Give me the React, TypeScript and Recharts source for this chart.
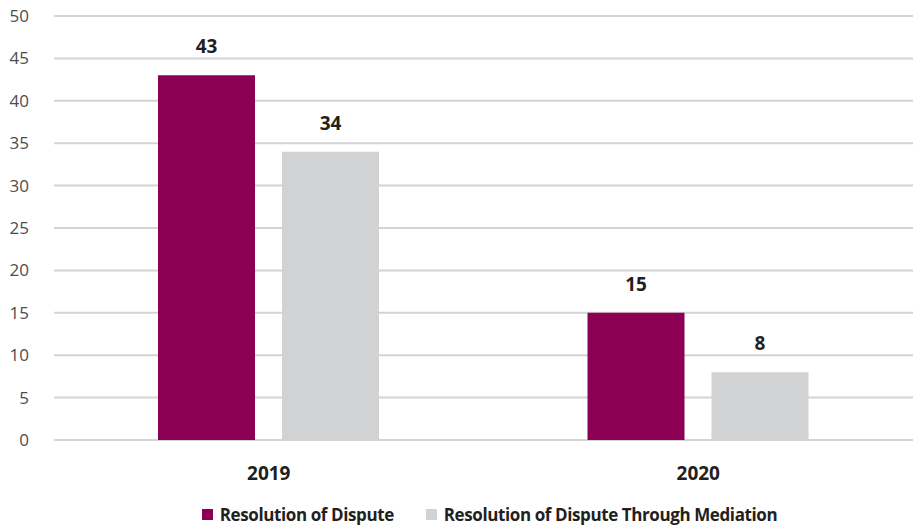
import React from "react";
import { BarChart, Bar, XAxis, YAxis, CartesianGrid, Legend, LabelList } from "recharts";

const categories = ["2019", "2020"];
const resolutionOfDispute = [43, 15];
const throughMediation = [34, 8];
const yTicks = [0, 5, 10, 15, 20, 25, 30, 35, 40, 45, 50];

const seriesNames = ["Resolution of Dispute", "Resolution of Dispute Through Mediation"];
const colors = ["#8B0052", "#D1D2D4"];

const data = categories.map((c, i) => ({
  year: c,
  a: resolutionOfDispute[i],
  b: throughMediation[i],
}));

const FONT = "'Open Sans', sans-serif";

const LegendContent = () => (
  <div
    style={{
      display: "flex",
      justifyContent: "center",
      alignItems: "center",
      height: 30,
      fontFamily: FONT,
      fontWeight: 700,
      fontSize: 17,
      letterSpacing: -0.4,
      color: "#231F20",
      paddingLeft: 66,
    }}
  >
    {seriesNames.map((n, i) => (
      <div key={n} style={{ display: "flex", alignItems: "center", marginRight: i === 0 ? 32 : 0 }}>
        <span style={{ display: "inline-block", width: 11, height: 11, background: colors[i], marginRight: 7 }} />
        <span>{n}</span>
      </div>
    ))}
  </div>
);

export default function App() {
  return (
    <div style={{ position: "absolute", left: 0, top: 0, width: 913, height: 529, background: "#fff" }}>
      <BarChart
        width={913}
        height={529}
        data={data}
        margin={{ top: 16, right: 0, bottom: 0, left: 0 }}
        barGap={27}
        barSize={97}
      >
        <CartesianGrid vertical={false} stroke="#D4D4D4" strokeWidth={2} />
        <XAxis
          dataKey="year"
          axisLine={false}
          tickLine={false}
          tickSize={0}
          tickMargin={27}
          height={59}
          tick={{ fill: "#231F20", fontFamily: FONT, fontWeight: 700, fontSize: 19 }}
        />
        <YAxis
          domain={[0, 50]}
          ticks={yTicks}
          interval={0}
          axisLine={false}
          tickLine={false}
          tickSize={0}
          tickMargin={25}
          width={54}
          tick={{ fill: "#4D4D4F", fontFamily: FONT, fontSize: 17 }}
        />
        <Legend verticalAlign="bottom" content={<LegendContent />} />
        <Bar dataKey="a" name={seriesNames[0]} fill={colors[0]} isAnimationActive={false}>
          <LabelList
            dataKey="a"
            position="top"
            offset={22}
            style={{ fill: "#231F20", fontFamily: FONT, fontWeight: 700, fontSize: 19 }}
          />
        </Bar>
        <Bar dataKey="b" name={seriesNames[1]} fill={colors[1]} isAnimationActive={false}>
          <LabelList
            dataKey="b"
            position="top"
            offset={22}
            style={{ fill: "#231F20", fontFamily: FONT, fontWeight: 700, fontSize: 19 }}
          />
        </Bar>
      </BarChart>
    </div>
  );
}
